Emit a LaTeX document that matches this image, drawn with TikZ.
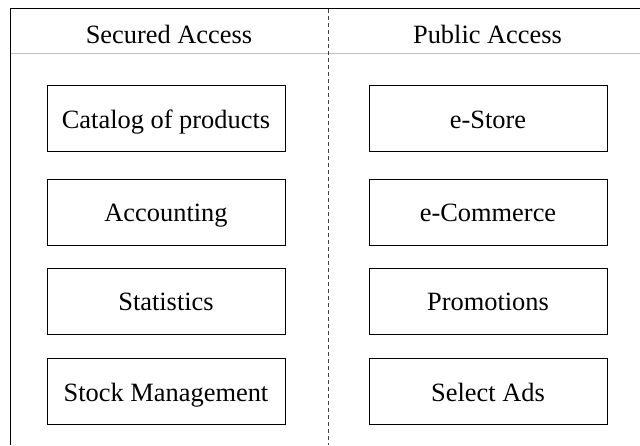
\documentclass[tikz,border=0pt]{standalone}
\usepackage{fontspec}
\setmainfont{Liberation Serif}
\begin{document}
\begin{tikzpicture}[x=1pt,y=-1pt,
  box/.style={draw=black,line width=0.9pt,minimum width=238pt,minimum height=66pt,inner sep=0pt,text height=19pt,text depth=0pt,font=\fontsize{26.4}{30}\selectfont},
  head/.style={inner sep=0pt,anchor=base,font=\fontsize{26.4}{30}\selectfont},
  frame/.style={draw=black,line width=1pt},
  sep/.style={draw=black!25,line width=1pt},
  divider/.style={draw=black!75,line width=0.9pt,dash pattern=on 4pt off 3pt}]
\useasboundingbox (0,0) rectangle (640,445);
% frame
\coordinate (tl) at (10.5,8);
\coordinate (tr) at (640,8);
\coordinate (bl) at (10.5,445);
\coordinate (hl) at (11,53);
\coordinate (hr) at (640,53);
\coordinate (dt) at (328,9);
\coordinate (db) at (328,445);
\draw[sep] (hl) -- (hr);
\draw[divider] (dt) -- (db);
\draw[frame] (tr) -- (tl) -- (bl);
% headers
\node[head] (hsec) at (169,43.3) {Secured Access};
\node[head] (hpub) at (487.5,43.3) {Public Access};
% left column
\node[box] (cat) at (166,118.5) {Catalog of products};
\node[box] (acc) at (166,212) {Accounting};
\node[box] (sta) at (166,301) {Statistics};
\node[box] (stk) at (166,391.5) {Stock Management};
% right column
\node[box] (est) at (488,118.5) {e-Store};
\node[box] (eco) at (488,212) {e-Commerce};
\node[box] (pro) at (488,301) {Promotions};
\node[box] (ads) at (488,391.5) {Select Ads};
\end{tikzpicture}
\end{document}
